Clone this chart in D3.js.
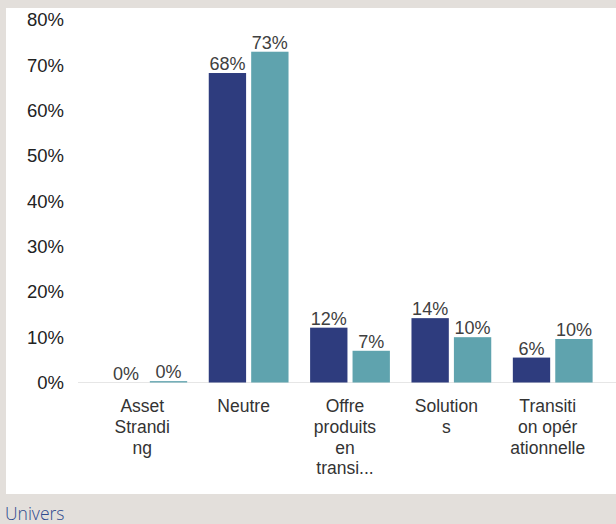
<!DOCTYPE html>
<html>
<head>
<meta charset="utf-8">
<script src="https://cdn.jsdelivr.net/npm/d3@7"></script>
<style>
  body { margin: 0; background: #e3dfdb; }
  svg { display: block; }
</style>
</head>
<body>
<svg width="616" height="524"></svg>
<script>
// data
const categories = ["Asset Stranding", "Neutre", "Offre produits en transition", "Solutions", "Transition opérationnelle"];
const labelLines = [
    ["Asset", "Strandi", "ng"],
    ["Neutre"],
    ["Offre", "produits", "en", "transi..."],
    ["Solution", "s"],
    ["Transiti", "on opér", "ationnelle"]
];
const series = ["A", "B"];
const valuesA = [0, 68.3, 12.1, 14.2, 5.5];
const valuesB = [0.3, 73.0, 7.0, 10.0, 9.6];
const yTicks = [0, 10, 20, 30, 40, 50, 60, 70, 80];

const colors = {"A": "#2e3c7e", "B": "#5fa3ae"};

const svg = d3.select("svg");

// white panel
svg.append("rect")
    .attr("x", 6).attr("y", 8)
    .attr("width", 610).attr("height", 486)
    .attr("fill", "#ffffff");

const yScale = d3.scaleLinear()
    .domain([0, 80])
    .range([382.5, 20]);

const xScale = d3.scaleBand()
    .domain(categories)
    .range([78, 622])
    .paddingInner(0.213)
    .paddingOuter(0.29);

const xSub = d3.scaleBand()
    .domain(series)
    .range([0, xScale.bandwidth()])
    .paddingInner(0.12);

// y axis (labels only)
const yAxis = svg.append("g")
    .attr("transform", "translate(69,0)")
    .call(d3.axisLeft(yScale).tickValues(yTicks).tickSize(0).tickPadding(5)
        .tickFormat(function (d) { return d + "%"; }));
yAxis.select(".domain").remove();
yAxis.selectAll("text")
    .attr("font-family", "Liberation Sans, Arial, sans-serif")
    .attr("font-size", "18.5px")
    .attr("fill", "#222");

// baseline
svg.append("line")
    .attr("x1", 78).attr("x2", 616)
    .attr("y1", yScale(0)).attr("y2", yScale(0))
    .attr("stroke", "#e6e6e6")
    .attr("stroke-width", 1);

// bars
const rows = categories.map(function (c, i) {
    return {cat: c, vals: [{s: "A", v: valuesA[i]}, {s: "B", v: valuesB[i]}]};
});

const groups = svg.selectAll(".grp")
    .data(rows)
    .enter().append("g")
    .attr("class", "grp")
    .attr("transform", function (d) { return "translate(" + xScale(d.cat) + ",0)"; });

groups.selectAll("rect")
    .data(function (d) { return d.vals; })
    .enter().append("rect")
    .attr("x", function (d) { return xSub(d.s); })
    .attr("y", function (d) { return yScale(d.v); })
    .attr("width", xSub.bandwidth())
    .attr("height", function (d) { return yScale(0) - yScale(d.v); })
    .attr("fill", function (d) { return colors[d.s]; });

groups.selectAll(".val")
    .data(function (d) { return d.vals; })
    .enter().append("text")
    .attr("class", "val")
    .attr("x", function (d) { return xSub(d.s) + xSub.bandwidth() / 2; })
    .attr("y", function (d) { return yScale(d.v) - 3; })
    .attr("text-anchor", "middle")
    .attr("font-family", "Liberation Sans, Arial, sans-serif")
    .attr("font-size", "18px")
    .attr("fill", "#404040")
    .text(function (d) { return Math.round(d.v) + "%"; });

// category labels (wrapped)
const xAxis = svg.append("g")
    .selectAll("text")
    .data(categories)
    .enter().append("text")
    .attr("x", function (d) { return xScale(d) + xScale.bandwidth() / 2 - 5; })
    .attr("y", 412)
    .attr("text-anchor", "middle")
    .attr("font-family", "Liberation Sans, Arial, sans-serif")
    .attr("font-size", "17.5px")
    .attr("fill", "#333");

xAxis.each(function (d, i) {
    const t = d3.select(this);
    const x = t.attr("x");
    labelLines[i].forEach(function (line, j) {
        t.append("tspan")
            .attr("x", x)
            .attr("dy", j === 0 ? 0 : 20.8)
            .text(line);
    });
});

// footer title
svg.append("text")
    .attr("x", 5)
    .attr("y", 520)
    .attr("font-family", "Segoe UI, Open Sans, sans-serif")
    .attr("font-size", "17.5px")
    .attr("font-weight", 300)
    .attr("fill", "#2f4a8f")
    .text("Univers");
</script>
</body>
</html>
